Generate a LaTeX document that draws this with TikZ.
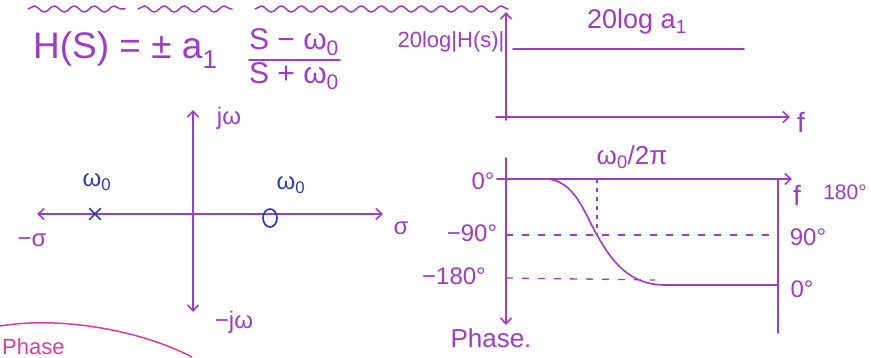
\documentclass[tikz,border=0pt]{standalone}
\usepackage{fontspec}
\setmainfont{Liberation Sans}
\usetikzlibrary{arrows.meta,positioning,calc,decorations.pathmorphing,shapes.geometric,shapes.misc}
\definecolor{ink}{HTML}{9D3CC9}
\definecolor{pen}{HTML}{2A3AC0}
\definecolor{rose}{HTML}{E03A9F}

\begin{document}
\begin{tikzpicture}[x=1pt,y=-1pt,
  axis/.style={ink, line width=1.6pt, line cap=round},
  tip/.style={-{Straight Barb[length=6pt,width=11pt]}},
  guide/.style={ink, line width=1.3pt, dash pattern=on 7pt off 9pt},
  lbl/.style={text=ink, inner sep=0pt, font=\fontsize{24}{26}\selectfont},
  root/.style={text=pen, inner sep=0pt, font=\fontsize{24}{26}\selectfont}]
  \useasboundingbox (0,0) rectangle (871,358);
  % wavy underline at the top
  \foreach \a/\b in {28/125,138/232,255/508}
    {\draw[axis, line width=1.5pt, decorate,
      decoration={snake,amplitude=3pt,segment length=20pt}] (\a,9) -- (\b,9);}
  % transfer function
  \node[text=ink, inner sep=0pt, anchor=west, font=\fontsize{37}{40}\selectfont]
    (tf) at (33,50) {H(S) = ± a\textsubscript{1}};
  \node[text=ink, inner sep=0pt, font=\fontsize{30}{32}\selectfont] (num) at (294,42) {S − ω\textsubscript{0}};
  \node[text=ink, inner sep=0pt, font=\fontsize{30}{32}\selectfont] (den) at (294,76) {S + ω\textsubscript{0}};
  \coordinate (barl) at (249,60);
  \coordinate (barr) at (340,60);
  \draw[axis] (barl) -- (barr);

  % s-plane
  \coordinate (o) at (193,214);
  \coordinate (sl) at (37,214);
  \coordinate (sr) at (383,214);
  \coordinate (ju) at (193,110);
  \coordinate (jd) at (193,312);
  \draw[axis,tip] (o) -- (sl);
  \draw[axis,tip] (o) -- (sr);
  \draw[axis,tip] (o) -- (ju);
  \draw[axis,tip] (o) -- (jd);
  \node[lbl] (jlab) at (229,118) {jω};
  \node[lbl] (mjlab) at (234,322) {−jω};
  \node[lbl] (mslab) at (32,240) {−σ};
  \node[lbl] (slab) at (401,228) {σ};
  \node[draw=pen, cross out, line width=1.7pt, minimum size=10pt, inner sep=0pt] (pole) at (95,214) {};
  \node[draw=pen, ellipse, line width=1.7pt, minimum width=14pt, minimum height=18pt, inner sep=0pt] (zero) at (270,218) {};
  \node[root] (wp) at (97,182) {ω\textsubscript{0}};
  \node[root] (wz) at (291,185) {ω\textsubscript{0}};

  % magnitude
  \coordinate (mo) at (506,117);
  \coordinate (mbot) at (506,120);
  \coordinate (mtop) at (506,12);
  \coordinate (mleft) at (496,117);
  \coordinate (mright) at (790,117);
  \coordinate (gl) at (513,49);
  \coordinate (gr) at (744,49);
  \draw[axis,tip] (mbot) -- (mtop);
  \draw[axis,tip] (mleft) -- (mright);
  \draw[axis] (gl) -- (gr);
  \node[lbl, font=\fontsize{22}{24}\selectfont] (maglab) at (451,42) {20log|H(s)|};
  \node[lbl, font=\fontsize{27}{29}\selectfont] (gainlab) at (637,22) {20log a\textsubscript{1}};
  \node[lbl, font=\fontsize{28}{30}\selectfont] (f1) at (801,122) {f};

  % phase
  \coordinate (po) at (506,179);
  \coordinate (ptop) at (506,158);
  \coordinate (pdown) at (506,325);
  \coordinate (pleft) at (497,179);
  \coordinate (pright) at (792,179);
  \coordinate (rt) at (778,179);
  \coordinate (rb) at (778,333);
  \coordinate (m90) at (506,235);
  \coordinate (m90r) at (770,235);
  \coordinate (m180) at (506,278);
  \coordinate (m180r) at (655,280);
  \coordinate (wc) at (597,179);
  \coordinate (wcb) at (597,235);
  \draw[axis,tip] (ptop) -- (pdown);
  \draw[axis,tip] (pleft) -- (pright);
  \draw[axis] (rt) -- (rb);
  \draw[guide] (m90) -- (m90r);
  \draw[guide] (m180) -- (m180r);
  \draw[guide, dash pattern=on 4pt off 5pt] (wc) -- (wcb);
  \draw[axis] (po) -- (545,179) .. controls (575,179) and (585,215) .. (597,235)
    .. controls (612,262) and (630,285) .. (665,285) -- (778,285);
  \node[lbl] (p0) at (483,181) {0°};
  \node[lbl] (p90) at (472,233) {−90°};
  \node[lbl] (p180) at (454,276) {−180°};
  \node[lbl, font=\fontsize{26}{28}\selectfont] (wclab) at (632,157) {ω\textsubscript{0}/2π};
  \node[lbl, font=\fontsize{28}{30}\selectfont] (f2) at (797,195) {f};
  \node[lbl, font=\fontsize{21}{23}\selectfont] (q180) at (845,192) {180°};
  \node[lbl] (q90) at (808,237) {90°};
  \node[lbl] (q0) at (802,289) {0°};
  \node[lbl, font=\fontsize{26}{28}\selectfont] (phlab) at (491,338) {Phase.};

  % note at the bottom edge
  \draw[rose, line width=1.5pt] (0,326) .. controls (60,316) and (140,330) .. (192,357);
  \node[text=rose, inner sep=0pt, anchor=base west, font=\fontsize{22}{24}\selectfont] (note) at (2,355) {Phase};
\end{tikzpicture}
\end{document}
